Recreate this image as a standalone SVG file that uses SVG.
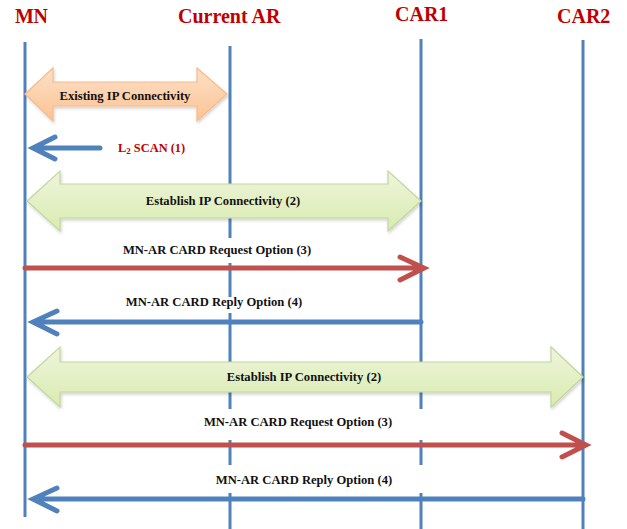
<svg xmlns="http://www.w3.org/2000/svg" width="627" height="529" viewBox="0 0 627 529">
<style>
.title{font-family:"Liberation Serif",serif;font-weight:bold;font-size:20px;fill:#c00000}
.life{stroke:#4f81bd;stroke-width:3;fill:none}
.lbl{font-family:"Liberation Serif",serif;font-weight:bold;font-size:12.6px;fill:#111111;text-anchor:middle}
.red{font-family:"Liberation Serif",serif;font-weight:bold;font-size:12.4px;fill:#c00000}
.blue{stroke:#4f81bd;stroke-width:5;fill:none;stroke-linecap:round;stroke-linejoin:miter}
.redl{stroke:#c0504d;stroke-width:5;fill:none;stroke-linecap:round;stroke-linejoin:miter}
.bg{fill:#ffffff}
.grn{fill:url(#gg);stroke:#c3d69b;stroke-width:1.2}
.org{fill:url(#og);stroke:#f9b98a;stroke-width:1.2}
</style>
<defs>
<linearGradient id="gg" x1="0" y1="0" x2="0" y2="1">
<stop offset="0" stop-color="#eef5dc"/>
<stop offset="1" stop-color="#d9ebb0"/>
</linearGradient>
<linearGradient id="og" x1="0" y1="0" x2="0" y2="1">
<stop offset="0" stop-color="#fde0c8"/>
<stop offset="1" stop-color="#fbc393"/>
</linearGradient>
<filter id="sh" x="-5%" y="-20%" width="110%" height="140%">
<feDropShadow dx="1" dy="2" stdDeviation="1.5" flood-color="#000" flood-opacity="0.18"/>
</filter>
</defs>
<rect width="627" height="529" fill="#ffffff"/>
<g id="node-mn">
<text class="title" x="15" y="23" textLength="33">MN</text>
<line class="life" x1="25" y1="42" x2="25" y2="517"/>
</g>
<g id="node-current-ar">
<text class="title" x="178" y="23">Current AR</text>
<line class="life" x1="230" y1="46" x2="230" y2="529"/>
</g>
<g id="node-car1">
<text class="title" x="395" y="21">CAR1</text>
<line class="life" x1="421" y1="39" x2="421" y2="529"/>
</g>
<g id="node-car2">
<text class="title" x="557" y="23">CAR2</text>
<line class="life" x1="583" y1="40" x2="583" y2="529"/>
</g>
<g id="connectors">
<polygon class="org" filter="url(#sh)" points="25,94 53,68 53,82 197,82 197,68 227,94 197,121 197,106 53,106 53,121"/>
<text class="lbl" x="125" y="100">Existing IP Connectivity</text>
<path class="blue" d="M100 148 L33 148 M55 137 L33 148 L55 159"/>
<text class="red" x="118" y="152">L<tspan font-size="9" dy="2">2</tspan><tspan dy="-2"> SCAN (1)</tspan></text>
<polygon class="grn" filter="url(#sh)" points="27,201 60,171 60,184 388,184 388,171 421,201 388,231 388,218 60,218 60,231"/>
<text class="lbl" x="223" y="205">Establish IP Connectivity (2)</text>
<rect class="bg" x="110" y="238" width="220" height="25"/>
<text class="lbl" x="217" y="254">MN-AR CARD Request Option (3)</text>
<path class="redl" d="M25 268 L423 268 M400 257 L424 268 L400 280"/>
<rect class="bg" x="110" y="297" width="220" height="16"/>
<text class="lbl" x="214" y="306">MN-AR CARD Reply Option (4)</text>
<path class="blue" d="M421 322 L33 322 M57 311 L33 322 L57 334"/>
<polygon class="grn" filter="url(#sh)" points="27,377 60,347 60,362 551,362 551,347 583,377 551,407 551,392 60,392 60,407"/>
<text class="lbl" x="304" y="381">Establish IP Connectivity (2)</text>
<rect class="bg" x="60" y="409" width="490" height="31"/>
<text class="lbl" x="298" y="426">MN-AR CARD Request Option (3)</text>
<path class="redl" d="M25 445 L585 445 M562 433 L586 445 L562 457"/>
<rect class="bg" x="60" y="465" width="490" height="28"/>
<text class="lbl" x="304" y="484">MN-AR CARD Reply Option (4)</text>
<path class="blue" d="M583 499 L33 499 M57 488 L33 499 L57 511"/>
</g>
</svg>
